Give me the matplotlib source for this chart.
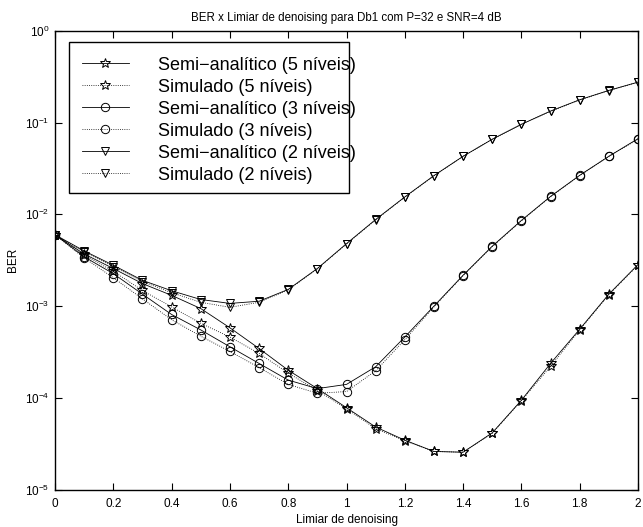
import matplotlib
matplotlib.use("Agg")
import matplotlib.pyplot as plt
from matplotlib.patches import Rectangle
from matplotlib.ticker import FixedLocator, LogFormatterMathtext, NullLocator

plt.rcParams["font.family"] = ["Liberation Sans", "DejaVu Sans"]
plt.rcParams["mathtext.fontset"] = "custom"
plt.rcParams["mathtext.rm"] = "Liberation Sans"
plt.rcParams["mathtext.it"] = "Liberation Sans"

limiar = [i / 10 for i in range(21)]

semi_5 = [6.0e-3, 3.7e-3, 2.57e-3, 1.76e-3, 1.31e-3, 9.4e-4, 5.8e-4, 3.45e-4, 2.0e-4, 1.26e-4,
          7.8e-5, 4.8e-5, 3.45e-5, 2.6e-5, 2.55e-5, 4.15e-5, 9.4e-5, 2.37e-4, 5.6e-4, 1.35e-3, 2.84e-3]
sim_5 = [6.0e-3, 3.6e-3, 2.4e-3, 1.48e-3, 9.8e-4, 6.5e-4, 4.6e-4, 3.05e-4, 1.86e-4, 1.2e-4,
         7.6e-5, 4.6e-5, 3.4e-5, 2.6e-5, 2.55e-5, 4.1e-5, 9.3e-5, 2.2e-4, 5.5e-4, 1.33e-3, 2.8e-3]
semi_3 = [6.0e-3, 3.45e-3, 2.26e-3, 1.35e-3, 8.1e-4, 5.5e-4, 3.6e-4, 2.37e-4, 1.56e-4, 1.26e-4,
          1.4e-4, 2.18e-4, 4.6e-4, 1.0e-3, 2.17e-3, 4.5e-3, 8.6e-3, 1.57e-2, 2.67e-2, 4.3e-2, 6.7e-2]
sim_3 = [6.0e-3, 3.35e-3, 2.04e-3, 1.2e-3, 7.1e-4, 4.7e-4, 3.2e-4, 2.14e-4, 1.4e-4, 1.12e-4,
         1.17e-4, 1.97e-4, 4.3e-4, 9.8e-4, 2.15e-3, 4.45e-3, 8.5e-3, 1.56e-2, 2.65e-2, 4.3e-2, 6.6e-2]
semi_2 = [6.0e-3, 4.0e-3, 2.79e-3, 1.91e-3, 1.47e-3, 1.18e-3, 1.07e-3, 1.13e-3, 1.52e-3, 2.57e-3,
          4.8e-3, 8.8e-3, 1.55e-2, 2.65e-2, 4.3e-2, 6.6e-2, 9.6e-2, 0.134, 0.178, 0.225, 0.277]
sim_2 = [6.0e-3, 3.9e-3, 2.7e-3, 1.85e-3, 1.4e-3, 1.1e-3, 9.7e-4, 1.1e-3, 1.5e-3, 2.55e-3,
         4.75e-3, 8.7e-3, 1.54e-2, 2.63e-2, 4.3e-2, 6.6e-2, 9.6e-2, 0.133, 0.177, 0.224, 0.276]

series = [
    ("Semi\u2212analítico (5 níveis)", semi_5, "-", "*"),
    ("Simulado (5 níveis)", sim_5, ":", "*"),
    ("Semi\u2212analítico (3 níveis)", semi_3, "-", "o"),
    ("Simulado (3 níveis)", sim_3, ":", "o"),
    ("Semi\u2212analítico (2 níveis)", semi_2, "-", "v"),
    ("Simulado (2 níveis)", sim_2, ":", "v"),
]

fig = plt.figure(figsize=(6.43, 5.27), dpi=100)
ax = fig.add_axes([55 / 643, 1 - 489.5 / 527, 583 / 643, 458.5 / 527])

for label, values, style, marker in series:
    ms = 7 if marker == "*" else 6
    ax.plot(limiar, values, linestyle=style, marker=marker, color="black", linewidth=0.6,
            markersize=ms, markerfacecolor="none", markeredgewidth=0.7, label=label)

ax.set_yscale("log")
ax.set_xlim(0, 2)
ax.set_ylim(1e-5, 1)
ax.set_xticks([0, 0.2, 0.4, 0.6, 0.8, 1, 1.2, 1.4, 1.6, 1.8, 2])
ax.set_xticklabels(["0", "0.2", "0.4", "0.6", "0.8", "1", "1.2", "1.4", "1.6", "1.8", "2"])
ax.yaxis.set_major_locator(FixedLocator([1e-5, 1e-4, 1e-3, 1e-2, 1e-1, 1]))
ax.yaxis.set_major_formatter(LogFormatterMathtext())
ax.yaxis.set_minor_locator(NullLocator())
ax.tick_params(which="both", direction="in", top=True, right=True, length=5, width=0.8,
               labelsize=8.5)
ax.tick_params(axis="x", pad=6)
ax.tick_params(axis="y", pad=4)
for spine in ax.spines.values():
    spine.set_linewidth(1.0)

ax.set_title("BER x Limiar de denoising para Db1 com P=32 e SNR=4 dB", fontsize=8.3, pad=7)
ax.set_xlabel("Limiar de denoising", fontsize=8.5, labelpad=3)
ax.set_ylabel("BER", fontsize=8.5, labelpad=4)

# legend box drawn by hand, the labels overflow it like in the original
box = Rectangle((69 / 643, 1 - 193 / 527), 280 / 643, 151 / 527, transform=fig.transFigure,
                facecolor="white", edgecolor="black", linewidth=1.0, zorder=4, clip_on=False)
ax.add_patch(box)
leg = ax.legend(loc="upper left", bbox_to_anchor=(0.0463, 0.944), frameon=False, fontsize=13,
                handlelength=2.6, handletextpad=1.6, labelspacing=0.275, borderpad=0,
                borderaxespad=0)
leg.set_zorder(5)

fig.savefig("out.png", dpi=100)
